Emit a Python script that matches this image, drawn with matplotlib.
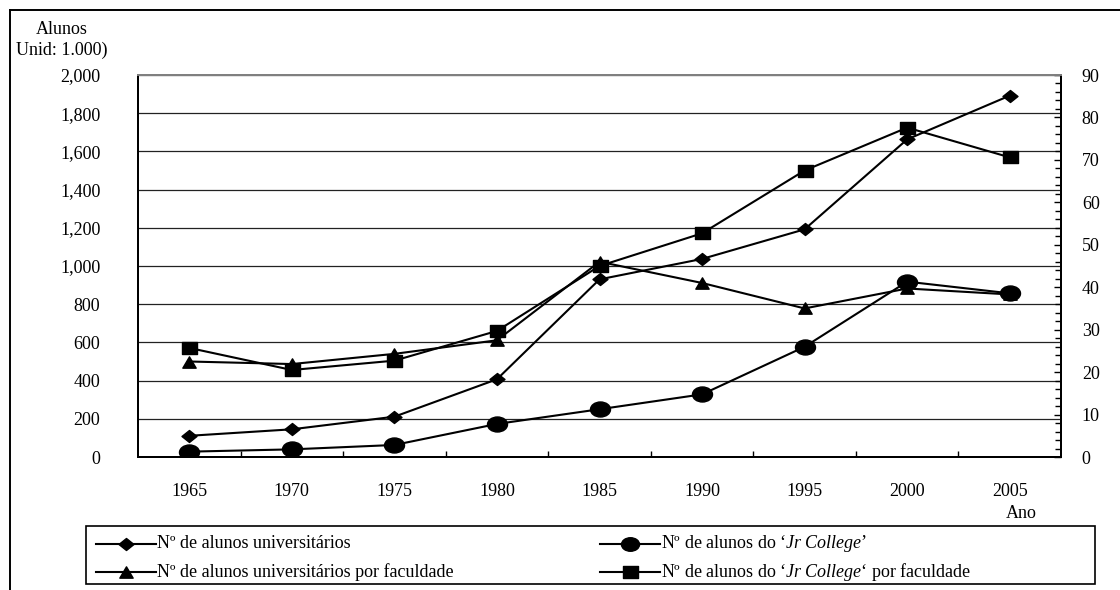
import matplotlib
matplotlib.use("Agg")
import matplotlib.pyplot as plt
import numpy as np
from matplotlib.path import Path
from matplotlib.transforms import Affine2D
from matplotlib.lines import Line2D
from matplotlib.patches import Rectangle

plt.rcParams['font.family'] = ['Liberation Serif', 'DejaVu Serif']
plt.rcParams['mathtext.fontset'] = 'custom'
plt.rcParams['mathtext.rm'] = 'Liberation Serif'
plt.rcParams['mathtext.it'] = 'Liberation Serif:italic'

# data
years = [1965, 1970, 1975, 1980, 1985, 1990, 1995, 2000, 2005]
univ_students = [111, 145, 211, 407, 930, 1037, 1192, 1663, 1892]        # left axis
jr_students = [28, 40, 63, 173, 250, 328, 577, 918, 857]                 # left axis
univ_per_fac = [22.5, 21.9, 24.3, 27.5, 46.0, 41.0, 35.0, 39.7, 38.3]    # right axis
jr_per_fac = [25.7, 20.5, 22.7, 29.7, 45.0, 52.7, 67.5, 77.6, 70.6]      # right axis

left_ticks = [0, 200, 400, 600, 800, 1000, 1200, 1400, 1600, 1800, 2000]
left_labels = ['0', '200', '400', '600', '800', '1,000', '1,200', '1,400', '1,600', '1,800', '2,000']
right_ticks = [0, 10, 20, 30, 40, 50, 60, 70, 80, 90]

labels = ['Nº de alunos universitários',
          'Nº de alunos do ‘$\\mathit{Jr\\ College}$’',
          'Nº de alunos universitários por faculdade',
          'Nº de alunos do ‘$\\mathit{Jr\\ College}$‘ por faculdade']

# markers (slightly wider than tall, like the original)
diamond = Path([(-1, 0), (0, 0.8), (1, 0), (0, -0.8), (-1, 0)],
               [Path.MOVETO, Path.LINETO, Path.LINETO, Path.LINETO, Path.CLOSEPOLY])
ellipse = Affine2D().scale(1, 0.75).transform_path(Path.unit_circle())
square = Path([(-1, -0.8), (1, -0.8), (1, 0.8), (-1, 0.8), (-1, -0.8)],
              [Path.MOVETO, Path.LINETO, Path.LINETO, Path.LINETO, Path.CLOSEPOLY])
triangle = Path([(-1, -0.85), (1, -0.85), (0, 0.85), (-1, -0.85)],
                [Path.MOVETO, Path.LINETO, Path.LINETO, Path.CLOSEPOLY])

fs = 13
W, H = 1120, 590
fig = plt.figure(figsize=(W / 100, H / 100), dpi=100)
ax = fig.add_axes([138 / W, 1 - 457 / H, (1061 - 138) / W, (457 - 75) / H])
ax2 = ax.twinx()

lw = 1.5
ax.plot(years, univ_students, color='black', lw=lw, marker=diamond, ms=10.8, zorder=3)
ax.plot(years, jr_students, color='black', lw=lw, marker=ellipse, ms=14.4, zorder=3)
ax2.plot(years, univ_per_fac, color='black', lw=lw, marker=triangle, ms=9.6, zorder=3)
ax2.plot(years, jr_per_fac, color='black', lw=lw, marker=square, ms=10.8, zorder=3)

ax.set_xlim(1962.5, 2007.5)
ax.set_ylim(0, 2000)
ax2.set_ylim(0, 90)

ax.set_yticks(left_ticks)
ax.set_yticklabels(left_labels)
ax.tick_params(axis='y', length=0, pad=27, labelsize=fs)
ax.yaxis.grid(True, color='#222222', lw=0.9)
ax.set_axisbelow(True)

ax.set_xticks(years)
ax.set_xticks(np.arange(1967.5, 2007.5, 5), minor=True)
ax.tick_params(axis='x', which='major', length=0, pad=19, labelsize=fs)
ax.tick_params(axis='x', which='minor', direction='in', length=4, width=1)
for lab in ax.get_xticklabels():
    lab.set_x(lab.get_position()[0])

ax2.set_yticks(right_ticks)
ax2.set_yticks(np.arange(0, 91, 2), minor=True)
ax2.tick_params(axis='y', which='major', direction='in', length=5, width=1, pad=15, labelsize=fs)
ax2.tick_params(axis='y', which='minor', direction='in', length=4, width=1)

for a in (ax, ax2):
    for s in ('left', 'bottom', 'right'):
        a.spines[s].set_color('black')
        a.spines[s].set_linewidth(1.4)
    a.spines['top'].set_color('#808080')
    a.spines['top'].set_linewidth(1.4)

fig.text(62 / W, 1 - 30 / H, 'Alunos', ha='center', va='center', fontsize=fs)
fig.text(62 / W, 1 - 50 / H, 'Unid: 1.000)', ha='center', va='center', fontsize=fs)
fig.text(1021 / W, 1 - 513 / H, 'Ano', ha='center', va='center', fontsize=fs)

# outer frame (left and top edges only are visible)
fig.add_artist(Line2D([10 / W, 10 / W], [0, 1 - 10 / H], color='black', lw=1.4))
fig.add_artist(Line2D([10 / W, 1], [1 - 10 / H, 1 - 10 / H], color='black', lw=1.4))

# legend box
fig.add_artist(Rectangle((86 / W, 1 - 584 / H), (1095 - 86) / W, (584 - 526) / H,
                         transform=fig.transFigure, fill=False, ec='black', lw=1.2))
leg_markers = [(diamond, 10.8), (ellipse, 13), (triangle, 9.6), (square, 10.8)]
leg_pos = [(96, 544), (600, 544), (96, 572), (600, 572)]
for (mk, ms), (x0, y0), lab in zip(leg_markers, leg_pos, labels):
    yy = 1 - y0 / H
    fig.add_artist(Line2D([x0 / W, (x0 + 60) / W], [yy, yy], color='black', lw=lw))
    fig.add_artist(Line2D([(x0 + 30) / W], [yy], color='black', marker=mk, ms=ms, lw=0))
    fig.text((x0 + 61) / W, yy, lab, ha='left', va='center', fontsize=fs)

fig.savefig('out.png', dpi=100)
